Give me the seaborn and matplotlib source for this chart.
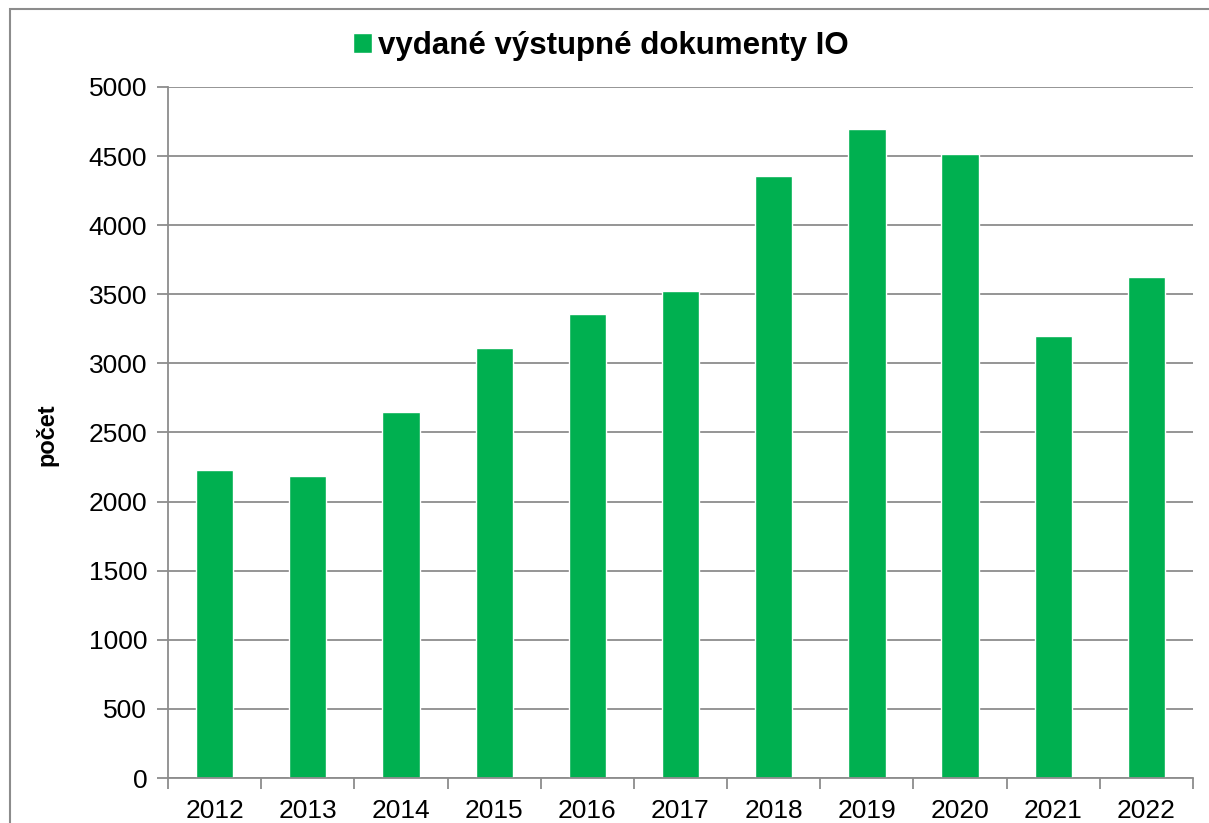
import pandas as pd
import matplotlib
matplotlib.use("Agg")
import matplotlib.pyplot as plt
import seaborn as sns
from matplotlib.patches import Rectangle

years = ["2012", "2013", "2014", "2015", "2016", "2017", "2018", "2019", "2020", "2021", "2022"]
docs = [2230, 2185, 2648, 3111, 3357, 3524, 4355, 4695, 4513, 3198, 3625]
series_name = "vydané výstupné dokumenty IO"

df = pd.DataFrame({"rok": years, "pocet": docs, "serie": series_name})

sns.set_style("white")
plt.rcParams["font.family"] = ["Liberation Sans", "DejaVu Sans"]
plt.rcParams["text.color"] = "black"
plt.rcParams["axes.labelcolor"] = "black"

fig = plt.figure(figsize=(12.09, 8.23), dpi=100)
ax = fig.add_axes([168 / 1209, 1 - 778 / 823, (1193 - 168) / 1209, (778 - 87) / 823])

sns.barplot(data=df, x="rok", y="pocet", hue="serie", palette=["#00B050"],
            width=0.4, ax=ax, saturation=1)

ax.set_ylim(0, 5000)
ax.set_xlim(-0.5, len(years) - 0.5)
ax.set_yticks(range(0, 5001, 500))
ax.yaxis.grid(True, color="#8c8c8c", linewidth=1.3)
ax.set_axisbelow(True)
for s in ["top", "right"]:
    ax.spines[s].set_visible(False)
for s in ["left", "bottom"]:
    ax.spines[s].set_color("#8c8c8c")
    ax.spines[s].set_linewidth(1.3)

# tick marks between categories, labels centred
ax.set_xticks([i - 0.5 for i in range(len(years) + 1)], minor=False)
ax.set_xticklabels([])
ax.set_xticks(range(len(years)), minor=True)
ax.set_xticklabels(years, minor=True)
ax.tick_params(axis="x", which="major", bottom=True, direction="out", length=8,
               color="#8c8c8c", width=1.3)
ax.tick_params(axis="x", which="minor", bottom=True, length=0, labelsize=19, pad=15,
               labelcolor="black")
ax.tick_params(axis="y", left=True, direction="out", length=8, color="#8c8c8c", width=1.3,
               labelsize=19, pad=7, labelcolor="black")

ax.set_xlabel("")
ax.set_ylabel("počet", fontsize=17, fontweight="bold")
ax.yaxis.set_label_coords(47 / 1209, 1 - 435 / 823, transform=fig.transFigure)
ax.yaxis.label.set_verticalalignment("center")

leg = ax.legend(loc="center", bbox_to_anchor=(0.497, 1 - 46 / 823), bbox_transform=fig.transFigure,
                frameon=False, prop={"size": 22.5, "weight": "bold"},
                handlelength=0.6, handleheight=0.6, handletextpad=0.2)

# outer chart frame
fig.patches.append(Rectangle((10 / 1209, -0.05), 1.1, 1.05 - 9 / 823, transform=fig.transFigure,
                             fill=False, edgecolor="#8c8c8c", linewidth=1.5))

fig.savefig("out.png", dpi=100)
